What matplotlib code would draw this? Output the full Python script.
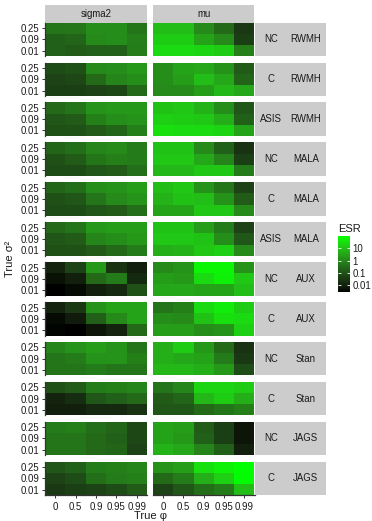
import numpy as np
import matplotlib
matplotlib.use("Agg")
import matplotlib.pyplot as plt
from matplotlib.colors import LogNorm, ListedColormap
from matplotlib.cm import ScalarMappable
from matplotlib.ticker import NullLocator

plt.rcParams['font.family'] = ['Liberation Sans', 'DejaVu Sans']

phi_labels = ["0", "0.5", "0.9", "0.95", "0.99"]
sigma_labels = ["0.01", "0.09", "0.25"]
columns = ["sigma2", "mu"]
param = ["NC", "C", "ASIS", "NC", "C", "ASIS", "NC", "C", "NC", "C", "NC", "C"]
sampler = ["RWMH", "RWMH", "RWMH", "MALA", "MALA", "MALA",
           "AUX", "AUX", "Stan", "Stan", "JAGS", "JAGS"]

# each block: rows sigma^2 = 0.25, 0.09, 0.01 (top to bottom), cols phi
sigma2_esr = [
    [[0.47, 0.5, 1.3, 1.3, 0.47], [0.2, 0.25, 1.1, 1.3, 0.7], [0.2, 0.16, 0.2, 0.2, 0.65]],
    [[0.085, 0.1, 1.1, 1.3, 2.0], [0.053, 0.065, 0.3, 0.9, 1.3], [0.045, 0.045, 0.053, 0.065, 0.3]],
    [[0.3, 0.47, 1.6, 2.0, 2.0], [0.13, 0.16, 0.72, 1.3, 1.6], [0.1, 0.1, 0.16, 0.25, 0.72]],
    [[0.25, 0.38, 0.9, 1.1, 0.6], [0.1, 0.16, 0.47, 0.72, 0.6], [0.085, 0.085, 0.13, 0.16, 0.38]],
    [[0.25, 0.38, 1.3, 1.6, 2.4], [0.1, 0.13, 0.47, 1.1, 1.6], [0.085, 0.085, 0.13, 0.16, 0.38]],
    [[0.3, 0.47, 2.0, 2.4, 2.4], [0.13, 0.16, 0.9, 1.3, 2.0], [0.1, 0.1, 0.16, 0.3, 0.6]],
    [[0.012, 0.053, 2.0, 0.025, 0.01], [0.005, 0.01, 0.3, 0.6, 0.016], [0.003, 0.004, 0.01, 0.016, 0.1]],
    [[0.012, 0.033, 1.6, 3.0, 3.0], [0.004, 0.008, 0.2, 1.1, 3.0], [0.0035, 0.003, 0.006, 0.012, 0.3]],
    [[0.9, 1.6, 2.4, 1.6, 0.47], [0.47, 0.6, 1.6, 1.6, 0.72], [0.47, 0.47, 0.6, 0.47, 0.47]],
    [[0.1, 0.16, 0.6, 0.72, 0.9], [0.012, 0.02, 0.13, 0.2, 0.3], [0.01, 0.01, 0.016, 0.016, 0.025]],
    [[0.6, 0.72, 0.38, 0.25, 0.065], [0.47, 0.47, 0.3, 0.2, 0.065], [0.47, 0.47, 0.3, 0.25, 0.053]],
    [[0.13, 0.2, 0.6, 0.72, 0.9], [0.053, 0.085, 0.38, 0.6, 0.72], [0.033, 0.045, 0.053, 0.085, 0.16]],
]

mu_esr = [
    [[8, 8, 1.1, 0.3, 0.033], [14, 14, 3, 1.1, 0.045], [25, 25, 20, 14, 0.72]],
    [[1.3, 3, 3.6, 1.6, 0.16], [1.3, 2.4, 8, 3.6, 0.25], [1.1, 1.1, 2.4, 6.5, 3.6]],
    [[10, 11.5, 5.5, 1.3, 0.13], [17, 14, 11.5, 4.5, 0.2], [30, 25, 25, 20, 3]],
    [[10, 10, 1.1, 0.2, 0.025], [11.5, 11.5, 3.6, 0.9, 0.045], [6.5, 6.5, 11.5, 11.5, 0.6]],
    [[8, 11.5, 1.6, 0.47, 0.053], [5.5, 10, 8, 1.6, 0.16], [3, 3, 11.5, 11.5, 1.1]],
    [[10, 10, 2.4, 0.6, 0.053], [11.5, 11.5, 10, 1.3, 0.13], [4.5, 5.5, 11.5, 17, 1.1]],
    [[1.1, 1.6, 65, 65, 1.6], [2.4, 2, 25, 55, 11.5], [3.6, 3.6, 3, 3, 8]],
    [[0.47, 0.72, 25, 45, 14], [1.3, 1.1, 10, 30, 25], [2.4, 2.4, 1.3, 1.6, 17]],
    [[4.5, 14, 2, 0.3, 0.025], [4.5, 3.6, 3, 0.6, 0.033], [6.5, 6.5, 4.5, 2, 0.085]],
    [[0.47, 0.9, 20, 20, 14], [0.16, 0.25, 6.5, 14, 4.5], [0.13, 0.13, 0.3, 0.47, 0.72]],
    [[3, 2.4, 0.16, 0.045, 0.006], [3, 2, 0.2, 0.045, 0.006], [5.5, 3.6, 0.9, 0.2, 0.01]],
    [[1.6, 2.4, 30, 55, 93], [0.3, 0.6, 4.5, 17, 80], [0.053, 0.13, 0.38, 0.6, 8]],
]


def lab_to_rgb(L, a, b):
    """black -> green gradient done in Lab space like ggplot"""
    fy = (L + 16) / 116
    fx = fy + a / 500
    fz = fy - b / 200
    def finv(t):
        return np.where(t > 6 / 29, t ** 3, 3 * (6 / 29) ** 2 * (t - 4 / 29))
    X = 0.95047 * finv(fx)
    Y = finv(fy)
    Z = 1.08883 * finv(fz)
    r = 3.2406 * X - 1.5372 * Y - 0.4986 * Z
    g = -0.9689 * X + 1.8758 * Y + 0.0415 * Z
    bb = 0.0557 * X - 0.2040 * Y + 1.0570 * Z
    rgb = np.clip(np.stack([r, g, bb], axis=1), 0, 1)
    rgb = np.where(rgb <= 0.0031308, 12.92 * rgb, 1.055 * rgb ** (1 / 2.4) - 0.055)
    return np.clip(rgb, 0, 1)


t = np.linspace(0, 1, 256)
cmap = ListedColormap(lab_to_rgb(87.73 * t, -86.18 * t, 83.18 * t))

allv = np.array(sigma2_esr + mu_esr)
norm = LogNorm(vmin=allv.min(), vmax=allv.max())

W, H = 372, 521
fig = plt.figure(figsize=(W / 100, H / 100), dpi=100)


def px_axes(x0, y0, w, h):
    return fig.add_axes([x0 / W, 1 - (y0 + h) / H, w / W, h / H])


strip_col = "#cccccc"
txt_col = "#1a1a1a"
fs = 6.9
col_x = [45, 153]
col_w = [102, 101.5]
top0 = 22.7
pitch = 39.9
ph = 33.5

# column strips
for j in range(2):
    sax = px_axes(col_x[j], 5, col_w[j], 17.7)
    sax.set_facecolor(strip_col)
    sax.set_xticks([])
    sax.set_yticks([])
    for s in sax.spines.values():
        s.set_visible(False)
    sax.text(0.5, 0.5, columns[j], ha="center", va="center", fontsize=fs, color=txt_col,
             transform=sax.transAxes)

for i in range(12):
    y0 = top0 + pitch * i
    for j, data in enumerate([sigma2_esr, mu_esr]):
        ax = px_axes(col_x[j], y0, col_w[j], ph)
        z = np.array(data[i])[::-1]
        ax.pcolormesh(np.arange(6), np.arange(4), z, cmap=cmap, norm=norm,
                      edgecolors="none", antialiased=False)
        ax.set_xlim(0, 5)
        ax.set_ylim(0, 3)
        for s in ax.spines.values():
            s.set_visible(False)
        ax.set_xticks(np.arange(5) + 0.5)
        ax.set_yticks(np.arange(3) + 0.5)
        ax.tick_params(length=2.5, width=0.7, color="#333333", labelsize=fs,
                       labelcolor=txt_col, pad=1.5)
        if j == 0:
            ax.spines["left"].set_visible(True)
            ax.spines["left"].set_linewidth(0.9)
            ax.spines["left"].set_color("#333333")
            ax.set_yticklabels(sigma_labels)
        else:
            ax.tick_params(left=False, labelleft=False)
        if i == 11:
            ax.spines["bottom"].set_visible(True)
            ax.spines["bottom"].set_linewidth(0.9)
            ax.spines["bottom"].set_color("#333333")
            ax.set_xticklabels(phi_labels)
            ax.tick_params(axis="x", pad=2.5)
        else:
            ax.tick_params(bottom=False, labelbottom=False)

    # row strips (two facet variables side by side)
    rax = px_axes(255.5, y0, 70.5, ph)
    rax.set_facecolor(strip_col)
    rax.set_xticks([])
    rax.set_yticks([])
    for s in rax.spines.values():
        s.set_visible(False)
    rax.text(0.22, 0.5, param[i], ha="center", va="center", fontsize=fs, color=txt_col,
             transform=rax.transAxes)
    rax.text(0.715, 0.5, sampler[i], ha="center", va="center", fontsize=fs, color=txt_col,
             transform=rax.transAxes)

fig.text(150 / W, 1 - 516 / H, "True φ", ha="center", va="center", fontsize=8, color=txt_col)
fig.text(10 / W, 1 - 259 / H, "True σ²", ha="center", va="center", rotation=90,
         fontsize=8, color=txt_col)

# legend
cax = px_axes(338, 236, 11.5, 56)
cb = fig.colorbar(ScalarMappable(norm=norm, cmap=cmap), cax=cax)
cb.outline.set_visible(False)
cb.set_ticks([0.01, 0.1, 1, 10])
cb.set_ticklabels(["0.01", "0.1", "1", "10"])
cax.yaxis.set_minor_locator(NullLocator())
cax.tick_params(axis="y", which="major", direction="in", length=2.3, width=0.6, color="white",
                left=True, right=True, labelleft=False, labelright=True,
                labelsize=fs, labelcolor=txt_col, pad=2)
fig.text(338 / W, 1 - 229.5 / H, "ESR", ha="left", va="center", fontsize=8, color=txt_col)

fig.savefig("out.png", dpi=100)
